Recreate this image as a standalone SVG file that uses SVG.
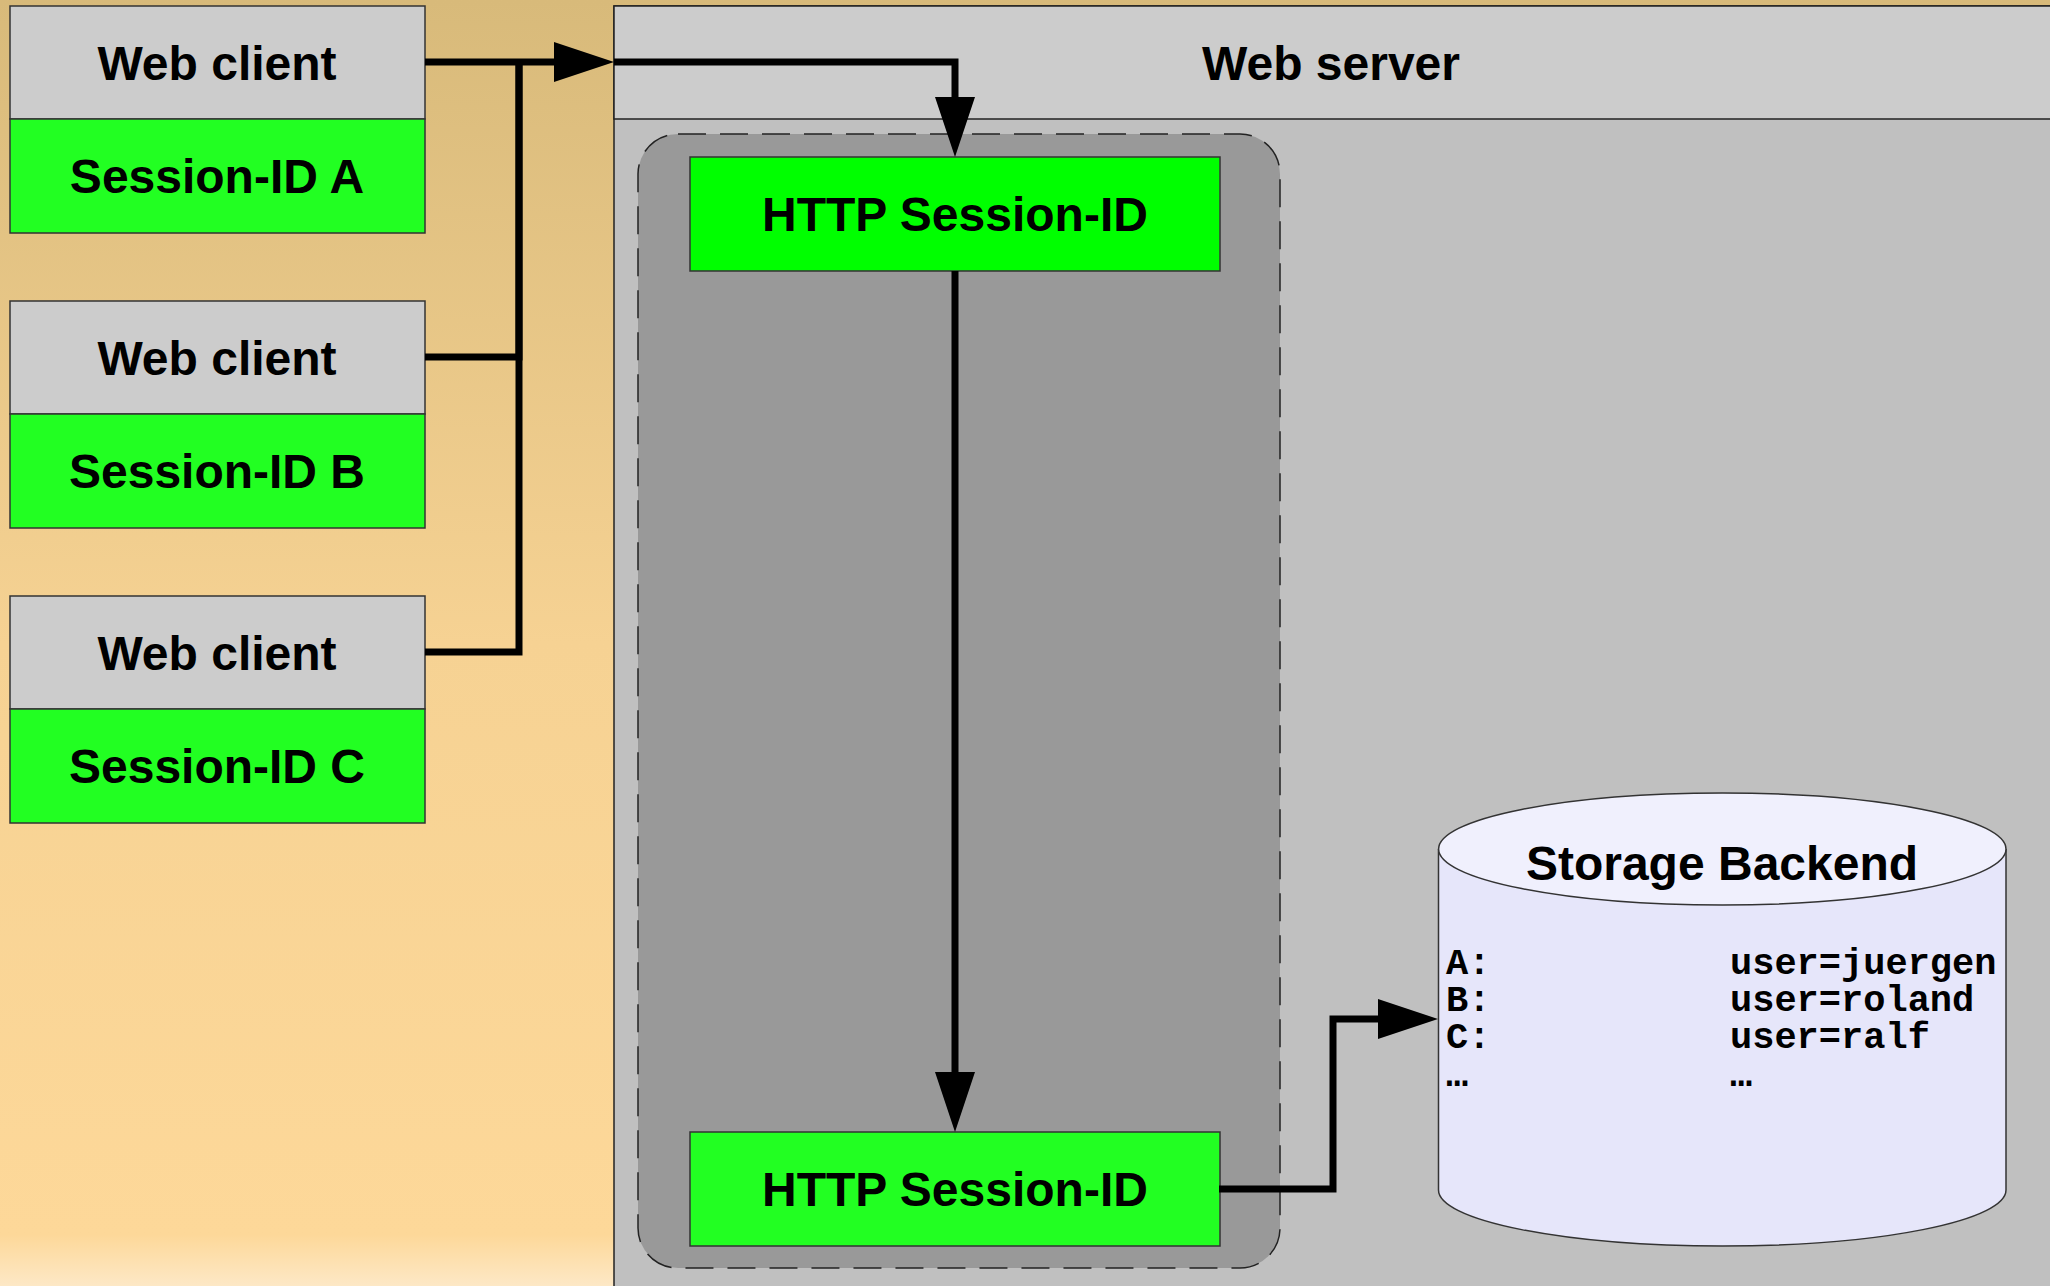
<svg xmlns="http://www.w3.org/2000/svg" width="2050" height="1286" viewBox="0 0 2050 1286">
<defs>
<linearGradient id="bg" x1="0" y1="0" x2="0" y2="1">
<stop offset="0" stop-color="#d8ba7a"/>
<stop offset="0.5" stop-color="#f6d293"/>
<stop offset="0.96" stop-color="#fdd899"/>
<stop offset="1" stop-color="#fde8c6"/>
</linearGradient>
<marker id="arr" markerUnits="userSpaceOnUse" markerWidth="62" markerHeight="42" refX="10" refY="20" orient="auto" viewBox="0 0 62 42">
<path d="M0,0 L60,20 L0,40 z" fill="#000"/>
</marker>
<style>
.lbl{font-family:"Liberation Sans",Arial,sans-serif;font-weight:bold;font-size:48px;fill:#000;text-anchor:middle}
.mono{font-family:"Liberation Mono","Courier New",monospace;font-weight:bold;font-size:37px;fill:#000}
.hdr{fill:#cccccc;stroke:#333;stroke-width:1.5}
.grn{fill:#22ff22;stroke:#333;stroke-width:1.5}
.conn{fill:none;stroke:#000;stroke-width:7}
</style>
</defs>
<rect x="0" y="0" width="2050" height="1286" fill="url(#bg)"/>

<g id="web-server">
<rect x="614" y="6" width="1450" height="1300" fill="#c0c0c0" stroke="#222" stroke-width="1.5"/>
<rect x="614" y="6" width="1450" height="113" fill="#cccccc" stroke="#222" stroke-width="1.5"/>
<text class="lbl" x="1331" y="80">Web server</text>
</g>

<g id="session-container">
<rect x="638" y="134" width="642" height="1134" rx="40" ry="40" fill="#999999" stroke="#222" stroke-width="1.5" stroke-dasharray="28 14"/>
</g>

<g id="client-a">
<rect class="hdr" x="10" y="6" width="415" height="113"/>
<rect class="grn" x="10" y="119" width="415" height="114"/>
<text class="lbl" x="217" y="80">Web client</text>
<text class="lbl" x="217" y="193">Session-ID A</text>
</g>
<g id="client-b">
<rect class="hdr" x="10" y="301" width="415" height="113"/>
<rect class="grn" x="10" y="414" width="415" height="114"/>
<text class="lbl" x="217" y="375">Web client</text>
<text class="lbl" x="217" y="488">Session-ID B</text>
</g>
<g id="client-c">
<rect class="hdr" x="10" y="596" width="415" height="113"/>
<rect class="grn" x="10" y="709" width="415" height="114"/>
<text class="lbl" x="217" y="670">Web client</text>
<text class="lbl" x="217" y="783">Session-ID C</text>
</g>

<g id="http-session-top">
<rect x="690" y="157" width="530" height="114" fill="#00ff00" stroke="#333" stroke-width="1.5"/>
<text class="lbl" x="955" y="231">HTTP Session-ID</text>
</g>
<g id="http-session-bottom">
<rect class="grn" x="690" y="1132" width="530" height="114"/>
<text class="lbl" x="955" y="1206">HTTP Session-ID</text>
</g>

<g id="storage-backend">
<path d="M1438.5,849 V1190 A283.5,56 0 0 0 2006,1190 V849" fill="#e6e6fa" stroke="#333" stroke-width="1.5"/>
<ellipse cx="1722.3" cy="849" rx="283.7" ry="56" fill="#f0f0fd" stroke="#333" stroke-width="1.5"/>
<text class="lbl" x="1722" y="880">Storage Backend</text>
<text class="mono" x="1446" y="974">A:</text>
<text class="mono" x="1730" y="974">user=juergen</text>
<text class="mono" x="1446" y="1011">B:</text>
<text class="mono" x="1730" y="1011">user=roland</text>
<text class="mono" x="1446" y="1048">C:</text>
<text class="mono" x="1730" y="1048">user=ralf</text>
<text class="mono" x="1446" y="1086">…</text>
<text class="mono" x="1730" y="1086">…</text>
</g>

<g id="connectors">
<path class="conn" d="M425,357 H519 V62"/>
<path class="conn" d="M425,652 H519 V62"/>
<path class="conn" d="M425,62 H564" marker-end="url(#arr)"/>
<path class="conn" d="M614,62 H955 V107" marker-end="url(#arr)"/>
<path class="conn" d="M955,271 V1082" marker-end="url(#arr)"/>
<path class="conn" d="M1219,1189 H1333 V1019 H1388" marker-end="url(#arr)"/>
</g>
</svg>
